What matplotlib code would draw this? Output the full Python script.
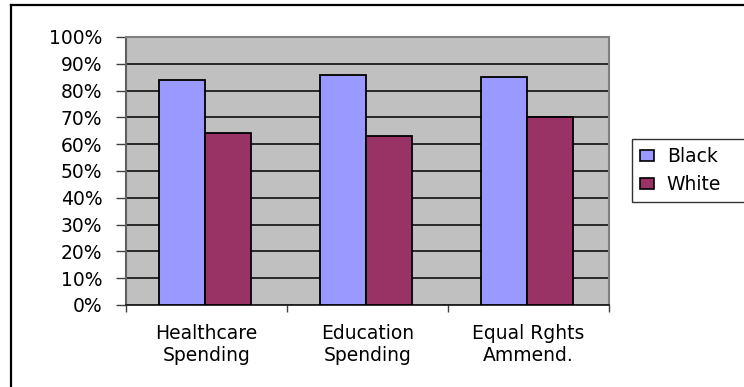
import numpy as np
import matplotlib
matplotlib.use('Agg')
import matplotlib.pyplot as plt
from matplotlib.patches import Patch
from matplotlib.lines import Line2D

categories = ['Healthcare\nSpending', 'Education\nSpending', 'Equal Rghts\nAmmend.']
black_vals = [84, 86, 85]
white_vals = [64, 63, 70]
series_names = ['Black', 'White']
yticks = [0, 10, 20, 30, 40, 50, 60, 70, 80, 90, 100]

plt.rcParams['font.family'] = ['DejaVu Sans']
FS = 13.5

fig = plt.figure(figsize=(7.44, 3.87), dpi=100)
ax = fig.add_axes([126 / 744, 1 - 305 / 387, (609 - 126) / 744, (305 - 37) / 387])
ax.set_facecolor('#C0C0C0')

x = np.arange(len(categories))
w = 1 / 3.5  # excel gap width 150%
ax.bar(x - w / 2 - 0.01, black_vals, w, color='#9999FF', edgecolor='black', linewidth=1.3, zorder=3)
ax.bar(x + w / 2 - 0.01, white_vals, w, color='#993366', edgecolor='black', linewidth=1.3, zorder=3)

ax.set_xlim(-0.5, len(categories) - 0.5)
ax.set_ylim(0, 100)
ax.set_yticks(yticks)
ax.set_yticklabels(['%d%%' % v for v in yticks], fontsize=FS)
ax.yaxis.grid(True, color='black', linewidth=1.1, zorder=1)
ax.set_axisbelow(True)
ax.tick_params(axis='y', direction='out', length=7, width=1, pad=10, color='#404040')

# category boundaries as major ticks, labels on minor ticks
ax.set_xticks(np.arange(len(categories) + 1) - 0.5)
ax.set_xticklabels([])
ax.set_xticks(x, minor=True)
ax.set_xticklabels(categories, minor=True, fontsize=FS, linespacing=1.2)
ax.tick_params(axis='x', which='major', direction='out', length=5, width=1, color='#404040')
ax.tick_params(axis='x', which='minor', length=0, pad=14)

for s in ['top', 'right']:
    ax.spines[s].set_color('#808080')
    ax.spines[s].set_linewidth(1.5)
ax.spines['left'].set_color('#606060')
ax.spines['left'].set_linewidth(1.5)
ax.spines['bottom'].set_color('#202020')
ax.spines['bottom'].set_linewidth(1.3)

# legend runs off the right edge like the original
handles = [Patch(facecolor='#9999FF', edgecolor='black', linewidth=1.2),
           Patch(facecolor='#993366', edgecolor='black', linewidth=1.2)]
leg = fig.legend(handles, series_names, loc='upper left', mode='expand',
                 bbox_to_anchor=(632 / 744, 1 - 139 / 387, 0.2, 0), fontsize=FS,
                 frameon=True, fancybox=False, shadow=False, borderpad=0.45,
                 handlelength=0.7, handleheight=0.55, handletextpad=0.7,
                 labelspacing=0.45, borderaxespad=0)
leg.get_frame().set_edgecolor('black')
leg.get_frame().set_linewidth(1.0)

# outer chart border (clipped at right and bottom)
fig.add_artist(Line2D([11 / 744, 11 / 744], [0, 1 - 5 / 387], transform=fig.transFigure,
                      color='black', linewidth=1.6))
fig.add_artist(Line2D([11 / 744, 1], [1 - 5 / 387, 1 - 5 / 387], transform=fig.transFigure,
                      color='black', linewidth=1.6))

fig.savefig('out.png', dpi=100)
